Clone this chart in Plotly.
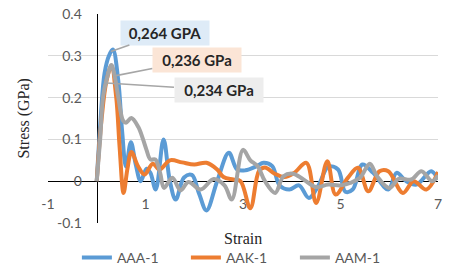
import plotly.graph_objects as go

# ---- data ----
aaa_x = [0, 0.08, 0.16, 0.25, 0.33, 0.44, 0.52, 0.6, 0.7, 0.8, 0.9, 1.02, 1.1, 1.21, 1.37, 1.5, 1.62,
         1.79, 1.95, 2.1, 2.25, 2.47, 2.71, 2.88, 3.05, 3.28, 3.42, 3.6, 3.75, 3.95, 4.15, 4.35, 4.55,
         4.75, 4.95, 5.1, 5.25, 5.45, 5.67, 5.98, 6.15, 6.35, 6.56, 6.86, 7.0]
aaa_y = [0, 0.15, 0.258, 0.3, 0.315, 0.242, 0.12, 0.035, 0.093, 0.04, 0.0, 0.03, 0.02, -0.02, 0.1, 0.0, -0.044,
         0.009, 0.015, -0.03, -0.07, 0.0, 0.068, 0.028, 0.026, 0.036, 0.044, 0.036, -0.01, -0.02, -0.01, -0.04, -0.01,
         0.035, 0.028, -0.025, -0.02, 0.04, 0.02, -0.02, 0.02, 0.0, -0.008, 0.024, 0.004]

aak_x = [0, 0.1, 0.2, 0.3, 0.4, 0.47, 0.55, 0.63, 0.71, 0.85, 0.98, 1.15, 1.29, 1.5, 1.75, 2.0, 2.25,
         2.47, 2.6, 2.8, 2.95, 3.15, 3.33, 3.45, 3.65, 3.85, 4.05, 4.3, 4.5, 4.73, 4.9, 5.15, 5.36, 5.57,
         5.8, 5.98, 6.28, 6.5, 6.76, 7.0]
aak_y = [0, 0.15, 0.24, 0.275, 0.2, 0.08, -0.028, 0.03, 0.07, 0.035, 0.016, 0.042, 0.028, 0.05, 0.045, 0.04, 0.044,
         0.028, 0.01, 0.004, 0.0, -0.065, 0.025, 0.033, 0.018, 0.01, 0.02, 0.044, -0.052, 0.048, -0.032, 0.008, 0.032, -0.024,
         0.024, 0.024, -0.028, 0.0, -0.02, 0.022]

aam_x = [0, 0.07, 0.13, 0.2, 0.3, 0.37, 0.44, 0.54, 0.6, 0.71, 0.85, 0.95, 1.02, 1.1, 1.2, 1.3, 1.38,
         1.55, 1.72, 1.88, 2.13, 2.4, 2.62, 2.77, 3.0, 3.15, 3.3, 3.45, 3.66, 3.83, 4.03, 4.24, 4.5,
         4.75, 5.0, 5.2, 5.4, 5.6, 5.75, 6.0, 6.2, 6.45, 6.66, 6.88, 7.0]
aam_y = [0, 0.1, 0.202, 0.242, 0.278, 0.25, 0.202, 0.145, 0.14, 0.151, 0.13, 0.1, 0.075, 0.052, 0.052, 0.02, -0.016,
         0.008, -0.022, -0.002, -0.02, 0.005, -0.01, -0.044, 0.075, 0.05, 0.036, 0.0, -0.028, 0.012, 0.018, 0.004, -0.014,
         -0.008, -0.01, -0.004, 0.008, 0.042, 0.012, -0.016, 0.006, 0.004, 0.024, 0.0, 0.014]

series_names = ["AAA-1", "AAK-1", "AAM-1"]
series_colors = ["#5B9BD5", "#ED7D31", "#A5A5A5"]

x_tickvals = [-1, 1, 3, 5, 7]
x_ticktext = ["-1", "1", "3", "5", "7"]
y_tickvals = [-0.1, 0, 0.1, 0.2, 0.3, 0.4]
y_ticktext = ["-0.1", "0", "0.1", "0.2", "0.3", "0.4"]

peak_labels = ["0,264 GPA", "0,236 GPa", "0,234 GPa"]
peak_x = [0.29, 0.37, 0.2]
peak_y = [0.31, 0.252, 0.235]
label_bg = ["#DEEBF7", "#FBE5D6", "#EDEDED"]

# ---- figure ----
fig = go.Figure()
for xs, ys, name, col in zip([aaa_x, aak_x, aam_x], [aaa_y, aak_y, aam_y], series_names, series_colors):
    fig.add_trace(go.Scatter(x=xs, y=ys, name=name, mode="lines",
                             line=dict(color=col, width=4, shape="spline", smoothing=1.0)))

tick_font = dict(family="Lato", size=14, color="#595959")
serif_font = dict(family="Liberation Serif", size=16, color="#262626")

fig.update_layout(
    width=455, height=272,
    margin=dict(l=48, r=17, t=14, b=49, autoexpand=False),
    paper_bgcolor="white", plot_bgcolor="white",
    showlegend=True,
    legend=dict(orientation="h", xref="container", yref="container", x=0.169, y=0.052,
                xanchor="left", yanchor="middle",
                font=dict(family="Lato", size=14, color="#595959"),
                entrywidth=64, entrywidthmode="pixels", bgcolor="rgba(0,0,0,0)"),
    xaxis=dict(range=[-1, 7], tickvals=x_tickvals, ticktext=x_ticktext, showgrid=False,
               zeroline=False, showline=True, linecolor="black", linewidth=1.3,
               anchor="free", position=0.2, ticks="", tickfont=tick_font, automargin=False,
               ticklabelstandoff=10, layer="below traces"),
    yaxis=dict(range=[-0.1, 0.4], tickvals=y_tickvals, ticktext=y_ticktext, showgrid=True,
               gridcolor="#D9D9D9", gridwidth=1, zeroline=False, showline=True,
               linecolor="black", linewidth=1.3, anchor="free", position=0.125, ticks="",
               automargin=False,
               tickfont=tick_font, ticklabelstandoff=12, layer="below traces"),
)

# axis titles
fig.add_annotation(text="Stress (GPa)", xref="paper", yref="paper", x=-0.064, y=0.5,
                   textangle=-90, showarrow=False, xanchor="center", yanchor="middle",
                   font=serif_font)
fig.add_annotation(text="Strain", xref="paper", yref="paper", x=0.5, y=-0.072,
                   showarrow=False, xanchor="center", yanchor="middle",
                   font=serif_font)

# peak callouts
offsets = [(54, -19), (82, -16), (112, 7)]
for lab, px, py, bg, (ax, ay) in zip(peak_labels, peak_x, peak_y, label_bg, offsets):
    fig.add_annotation(text="<b>%s</b>" % lab, x=px, y=py, xref="x", yref="y",
                       ax=ax, ay=ay, showarrow=True, arrowhead=0, arrowwidth=1.6,
                       arrowcolor="#A6A6A6", bgcolor=bg, borderpad=3,
                       width=82, height=18,
                       font=dict(family="Lato", size=15, color="#262626"))

fig.write_html("out.html", config={"displayModeBar": False},
               post_script="document.body.style.margin='0';")
